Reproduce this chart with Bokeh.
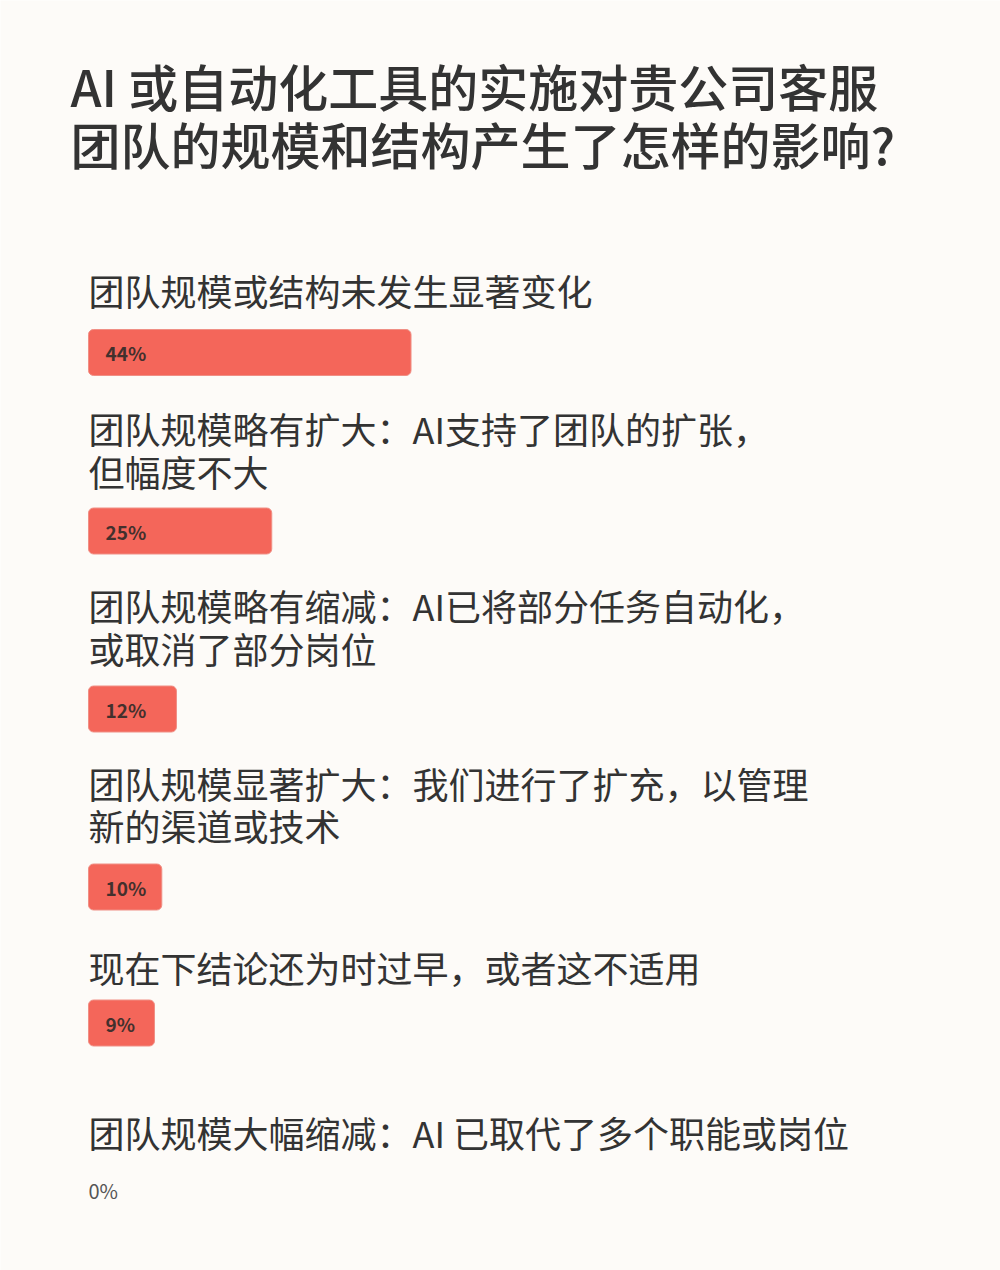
from bokeh.plotting import figure
from bokeh.models import Range1d, ColumnDataSource
from bokeh.core.properties import value
from bokeh.embed import file_html
from bokeh.resources import INLINE

# ---------------- data ----------------
title_lines = ["AI 或自动化工具的实施对贵公司客服", "团队的规模和结构产生了怎样的影响?"]
categories = [
    ["团队规模或结构未发生显著变化"],
    ["团队规模略有扩大：AI支持了团队的扩张，", "但幅度不大"],
    ["团队规模略有缩减：AI已将部分任务自动化，", "或取消了部分岗位"],
    ["团队规模显著扩大：我们进行了扩充，以管理", "新的渠道或技术"],
    ["现在下结论还为时过早，或者这不适用"],
    ["团队规模大幅缩减：AI 已取代了多个职能或岗位"],
]
values = [44, 25, 12, 10, 9, 0]
value_labels = ["44%", "25%", "12%", "10%", "9%", "0%"]

# ---------------- layout ----------------
W, H = 1000, 1270
PX_PER_PCT = 7.33
LEFT = 88  # px where 0% sits
BG = "#FDFBF8"
BAR = "#F4665A"
FONT = "Noto Sans CJK SC"
MED_FONT = "'Noto Sans CJK SC Medium', 'Noto Sans CJK SC'"

def px(xpix):
    return (xpix - LEFT) / PX_PER_PCT

p = figure(width=W, height=H, output_backend="svg", toolbar_location=None,
           x_range=Range1d(px(0), px(W)), y_range=Range1d(H, 0),
           min_border=0, background_fill_color=BG, border_fill_color=BG)
p.axis.visible = False
p.grid.visible = False
p.outline_line_color = None

# title
p.text(x=[px(70)] * 2, y=[84, 142.5], text=title_lines,
       text_font=value(MED_FONT), text_font_size="50px",
       text_color="#333333", text_baseline="middle", text_align="left")

# label / bar positions (px, y centers)
label_y = [[289], [427, 470], [604, 647], [782, 824], [966], [1131]]
bar_y = [352, 530.5, 708.5, 886.5, 1022.5, 1190]

lx, ly, lt = [], [], []
for lines, ys in zip(categories, label_y):
    for t, yy in zip(lines, ys):
        lx.append(px(88))
        ly.append(yy)
        lt.append(t)
p.text(x=lx, y=ly, text=lt, text_font=value(FONT), text_font_size="36px",
       text_color="#333333", text_baseline="middle", text_align="left")

bar_src = ColumnDataSource(dict(
    y=[bar_y[i] for i in range(len(values)) if values[i] > 0],
    right=[v for v in values if v > 0],
    lab=[value_labels[i] for i in range(len(values)) if values[i] > 0],
))
p.hbar(y="y", left=0, right="right", height=46, source=bar_src,
       fill_color=BAR, line_color="#F08F85", line_width=1, border_radius=5)
p.text(x=px(105), y="y", text="lab", source=bar_src, text_font=value(FONT),
       text_font_size="19px", text_font_style="bold", text_color="#43302D",
       text_baseline="middle", text_align="left")

zero_idx = [i for i in range(len(values)) if values[i] == 0]
p.text(x=[px(88)] * len(zero_idx), y=[bar_y[i] for i in zero_idx],
       text=[value_labels[i] for i in zero_idx], text_font=value(FONT),
       text_font_size="20px", text_color="#555555",
       text_baseline="middle", text_align="left")

open("out.html", "w").write(file_html(p, INLINE))
